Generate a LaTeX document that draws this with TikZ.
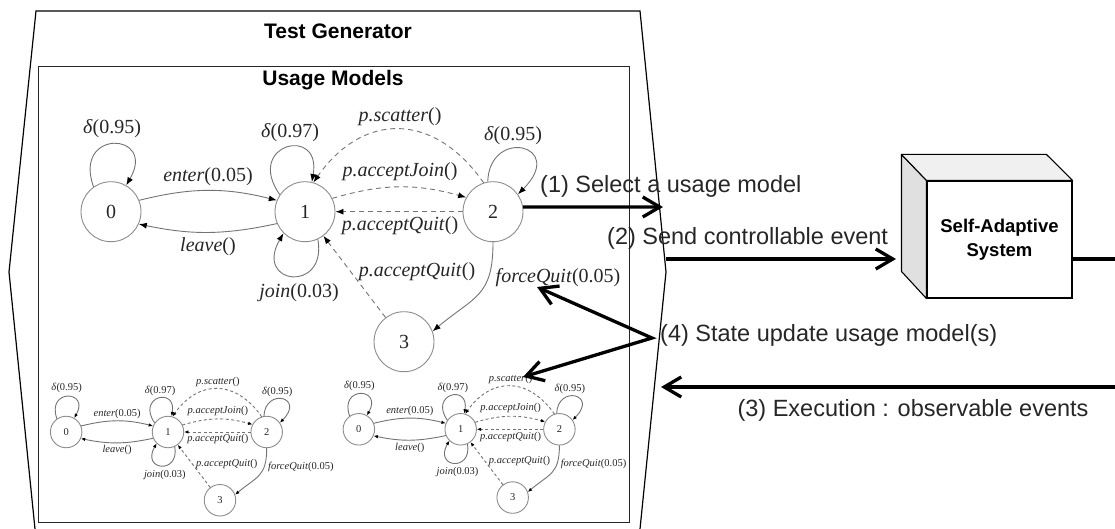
\documentclass[tikz,border=0pt]{standalone}
\usepackage{fontspec}
\setmainfont{Liberation Serif}
\newfontfamily\arial{Liberation Sans}
\newfontfamily\tms{Liberation Serif}
\usetikzlibrary{arrows.meta}
\newcommand{\fn}[2]{\textit{#1}(#2)}
\tikzset{
  st/.style={circle, draw=black!45, line width=0.9pt, minimum size=60pt, inner sep=0pt,
    font=\tms\fontsize{20}{24}\selectfont, text=black!85},
  mtip/.style={-{Latex[length=8pt,width=6pt,color=black]}},
  ed/.style={draw=black!55, line width=0.9pt, mtip},
  dsh/.style={dash pattern=on 5pt off 4pt},
  ml/.style={font=\tms\fontsize{20}{24}\selectfont, text=black!85, inner sep=0pt},
  big/.style={line width=3.3pt, -{Straight Barb[length=17pt,width=20pt]}},
  bigboth/.style={line width=3.3pt, {Straight Barb[length=17pt,width=20pt]}-{Straight Barb[length=17pt,width=20pt]}},
  lbl/.style={font=\arial\fontsize{23.5}{28}\selectfont, text=black!85, inner sep=0pt},
  ttl/.style={font=\arial\bfseries\fontsize{21}{25}\selectfont, inner sep=0pt},
}
\newcommand{\umodel}[1]{%
 \node[st] (#1n0) at (-194,0) {0};
 \node[st] (#1n1) at (0,0) {1};
 \node[st] (#1n2) at (188,0) {2};
 \node[st] (#1n3) at (99,-130) {3};
 \draw[ed] (#1n0.125) .. controls +(110:62) and +(60:62) .. (#1n0.60);
 \draw[ed] (#1n0.22) to[bend left=14] (#1n1.158);
 \draw[ed] (#1n1.-157) to[bend left=12] (#1n0.-24);
 \draw[ed] (#1n1.146) .. controls +(125:62) and +(80:58) .. (#1n1.77);
 \draw[ed] (#1n1.-65) .. controls +(-80:55) and +(-120:60) .. (#1n1.-135);
 \draw[ed,dsh] (#1n2.108) to[bend right=55,looseness=1.3] (#1n1.74);
 \draw[ed,dsh] (#1n1.26) to[bend left=16] (#1n2.152);
 \draw[ed,dsh] (#1n2) -- (#1n1);
 \draw[ed,dsh] (#1n3) -- (#1n1);
 \draw[ed] (#1n2.100) .. controls +(88:55) and +(45:70) .. (#1n2.35);
 \draw[ed] (#1n2.-90) to[out=-90,in=40,looseness=1.3] (#1n3.20);
 \node[ml] (#1la) at (-193,83) {\textit{δ}(0.95)};
 \node[ml] (#1lb) at (-97,35) {\fn{enter}{0.05}};
 \node[ml] (#1lc) at (-97,-35) {\fn{leave}{}};
 \node[ml] (#1ld) at (-15,79) {\textit{δ}(0.97)};
 \node[ml] (#1le) at (95,95) {\fn{p.scatter}{}};
 \node[ml] (#1lf) at (95,40) {\fn{p.acceptJoin}{}};
 \node[ml] (#1lg) at (95,-14) {\fn{p.acceptQuit}{}};
 \node[ml] (#1lh) at (208,76) {\textit{δ}(0.95)};
 \node[ml] (#1li) at (-6,-81) {\fn{join}{0.03}};
 \node[ml] (#1lj) at (112,-60) {\fn{p.acceptQuit}{}};
 \node[ml] (#1lk) at (253,-66) {\fn{forceQuit}{0.05}};
}
\begin{document}
\begin{tikzpicture}[x=1pt,y=1pt]
\useasboundingbox (0,0) rectangle (1115,-529);
% outer test generator shape
\draw[line width=1.2pt] (35,-529) -- (9,-272) -- (36,-11) -- (640,-11) -- (666,-272) -- (640,-529);
\node[ttl] (tg) at (338,-31) {Test Generator};
% usage models box
\node[draw, line width=1.4pt, draw=black!85, minimum width=591pt, minimum height=456pt, anchor=north west, inner sep=0pt] (umbox) at (38,-66) {};
\node[ttl] (um) at (333,-80) {Usage Models};
% big model
\begin{scope}[shift={(305,-211.7)}]
  \umodel{B}
\end{scope}
\begin{scope}[shift={(168,-432)}, scale=0.525, transform shape]
  \tikzset{mtip/.style={-{Latex[length=4.5pt,width=3.5pt,color=black]}}, dsh/.style={dash pattern=on 3pt off 2.5pt}}
  \umodel{L}
\end{scope}
\begin{scope}[shift={(460.7,-429.3)}, scale=0.525, transform shape]
  \tikzset{mtip/.style={-{Latex[length=4.5pt,width=3.5pt,color=black]}}, dsh/.style={dash pattern=on 3pt off 2.5pt}}
  \umodel{R}
\end{scope}
% self-adaptive system box
\node[draw, line width=1.1pt, fill=white, minimum width=145pt, minimum height=117pt, inner sep=0pt,
  align=center, font=\arial\bfseries\fontsize{18.5}{24}\selectfont] (sas) at (999.5,-239.5) {Self-Adaptive\\System};
\filldraw[fill=black!12, line width=1.1pt, line join=round] (sas.north west) -- ++(-25,26) -- ++(0,-117) -- (sas.south west) -- cycle;
\filldraw[fill=black!6, line width=1.1pt, line join=round] (sas.north west) -- ++(-25,26) -- ++(145,0) -- (sas.north east) -- cycle;
% connectors
\coordinate (t1) at (663,-207);
\draw[big] (Bn2.9) -- (t1);
\coordinate (s2) at (666,-259);
\coordinate (t2) at (896,-259);
\draw[big] (s2) -- (t2);
\coordinate (outR) at (1115,-259);
\draw[line width=3.3pt] (sas.east |- outR) -- (outR);
\coordinate (inR) at (1115,-387);
\coordinate (t3) at (661,-387);
\draw[big] (inR) -- (t3);
\coordinate (c4) at (652,-338);
\coordinate (t4a) at (537,-287);
\coordinate (t4b) at (523,-377);
\draw[bigboth, line join=miter, miter limit=20] (t4a) -- (c4) -- (t4b);
% labels
\node[lbl, anchor=west] (l1) at (540,-186) {(1) Select a usage model};
\node[lbl, anchor=west] (l2) at (607,-238) {(2) Send controllable event};
\node[lbl, anchor=west] (l4) at (660,-335) {(4) State update usage model(s)};
\node[lbl] (l3) at (913,-410) {(3) Execution : observable events};
\end{tikzpicture}
\end{document}
